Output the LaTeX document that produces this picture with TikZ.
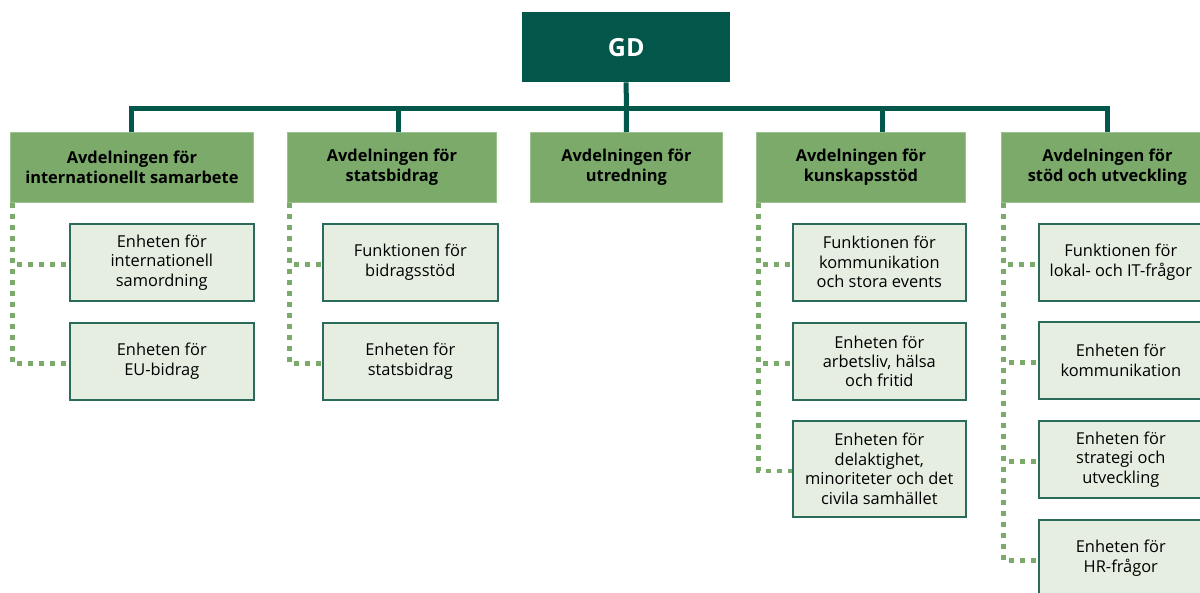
\documentclass[tikz,border=0pt]{standalone}
\usepackage{fontspec}
\setmainfont{Open Sans}
\definecolor{gddark}{HTML}{03574A}
\definecolor{deptgreen}{HTML}{7BAA6B}
\definecolor{deptedge}{HTML}{9DC08F}
\definecolor{unitfill}{HTML}{E5EEE0}
\definecolor{unitedge}{HTML}{2A6B5C}
\begin{document}
\begin{tikzpicture}[x=1pt,y=-1pt,
  gdbox/.style={fill=gddark,text=white,font=\fontsize{25}{30}\selectfont\bfseries,
    minimum width=208,minimum height=70,anchor=north west,inner sep=0},
  deptbox/.style={fill=deptgreen,draw=deptedge,line width=0.8,
    font=\fontsize{16.4}{20}\selectfont\bfseries,align=center,anchor=north west,
    minimum height=70,inner sep=0,text=black},
  unitbox/.style={fill=unitfill,draw=unitedge,line width=1.6,
    font=\fontsize{16.4}{19.5}\selectfont,align=center,anchor=north west,
    inner sep=0,minimum height=77,text=black},
  busline/.style={draw=gddark,line width=5},
  dotline/.style={draw=deptgreen,line width=4.5,dash pattern=on 5 off 6}]
\useasboundingbox (0,0) rectangle (1200,592);

% nodes
\node[gdbox] (gd) at (522,12) {GD};

\node[deptbox,minimum width=243] (d1) at (10,132) {Avdelningen för\\internationellt samarbete};
\node[deptbox,minimum width=209] (d2) at (287,132) {Avdelningen för\\statsbidrag};
\node[deptbox,minimum width=192] (d3) at (530,132) {Avdelningen för\\utredning};
\node[deptbox,minimum width=209] (d4) at (756,132) {Avdelningen för\\kunskapsstöd};
\node[deptbox,minimum width=212] (d5) at (1001,132) {Avdelningen för\\stöd och utveckling};

\node[unitbox,minimum width=184] (u11) at (69,223) {Enheten för\\internationell\\samordning};
\node[unitbox,minimum width=184] (u12) at (69,322) {Enheten för\\EU-bidrag};

\node[unitbox,minimum width=175] (u21) at (322,223) {Funktionen för\\bidragsstöd};
\node[unitbox,minimum width=175] (u22) at (322,322) {Enheten för\\statsbidrag};

\node[unitbox,minimum width=173] (u41) at (792,223) {Funktionen för\\kommunikation\\och stora events};
\node[unitbox,minimum width=173] (u42) at (792,322) {Enheten för\\arbetsliv, hälsa\\och fritid};
\node[unitbox,minimum width=173,minimum height=96] (u43) at (792,420) {Enheten för\\delaktighet,\\minoriteter och det\\civila samhället};

\node[unitbox,minimum width=164] (u51) at (1038,223) {Funktionen för\\lokal- och IT-frågor};
\node[unitbox,minimum width=164] (u52) at (1038,321) {Enheten för\\kommunikation};
\node[unitbox,minimum width=164] (u53) at (1038,420) {Enheten för\\strategi och\\utveckling};
\node[unitbox,minimum width=164] (u54) at (1038,519) {Enheten för\\HR-frågor};

% bus connectors
\coordinate (bus) at (626,108);
\coordinate (j2) at (398,132);
\coordinate (j4) at (882,132);
\draw[busline] (gd.south) -- (d3.north);
\draw[busline] (d1.north) |- (bus) -| (d5.north);
\draw[busline] (j2) -- (j2 |- bus);
\draw[busline] (j4) -- (j4 |- bus);

% dotted connectors
\foreach \d/\us in {d1/{u11,u12},d2/{u21,u22},d4/{u41,u42,u43},d5/{u51,u52,u53,u54}}{
  \foreach \u in \us {
    \draw[dotline] ([xshift=2.5]\d.south west) |- ([yshift=-2]\u.west);
  }
}
\end{tikzpicture}
\end{document}
